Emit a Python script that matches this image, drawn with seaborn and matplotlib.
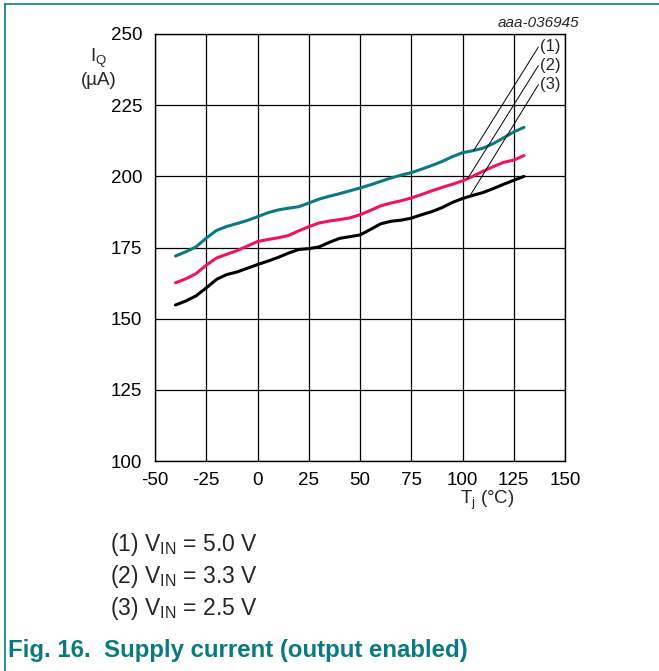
import numpy as np
import pandas as pd
import matplotlib
matplotlib.use("Agg")
import matplotlib.pyplot as plt
from matplotlib.lines import Line2D
import seaborn as sns

temps = [-40, -35, -30, -25, -20, -15, -10, -5, 0, 5, 10, 15, 20, 25, 30, 35, 40, 45, 50,
         55, 60, 65, 70, 75, 80, 85, 90, 95, 100, 105, 110, 115, 120, 125, 130]
ic_5v0 = [172.0, 173.5, 175.2, 178.3, 181.0, 182.4, 183.4, 184.5, 185.8, 187.2, 188.2, 188.8,
          189.3, 190.6, 192.0, 193.0, 193.9, 194.9, 195.9, 197.0, 198.2, 199.4, 200.4, 201.3,
          202.5, 203.8, 205.2, 206.9, 208.3, 209.0, 209.9, 211.5, 213.5, 215.6, 217.2]
ic_3v3 = [162.6, 164.0, 165.8, 168.8, 171.3, 172.6, 173.9, 175.5, 177.1, 177.8, 178.4, 179.2,
          180.8, 182.3, 183.6, 184.3, 184.8, 185.4, 186.5, 188.0, 189.6, 190.6, 191.4, 192.4,
          193.6, 194.9, 196.1, 197.2, 198.4, 200.0, 201.8, 203.4, 204.9, 205.7, 207.3]
ic_2v5 = [154.8, 156.2, 158.0, 160.8, 163.8, 165.5, 166.4, 167.7, 169.0, 170.2, 171.5, 173.0,
          174.3, 174.6, 175.2, 176.8, 178.2, 178.8, 179.4, 181.3, 183.3, 184.2, 184.6, 185.3,
          186.5, 187.6, 189.0, 190.8, 192.2, 193.3, 194.3, 195.7, 197.2, 198.6, 200.0]
series_names = ["(1)", "(2)", "(3)"]
series_colors = ["#0b7a80", "#f0155a", "#000000"]
x_ticks = [-50, -25, 0, 25, 50, 75, 100, 125, 150]
y_ticks = [100, 125, 150, 175, 200, 225, 250]
legend_lines = ["(1) V$_{\\mathregular{IN}}$ = 5.0 V",
                "(2) V$_{\\mathregular{IN}}$ = 3.3 V",
                "(3) V$_{\\mathregular{IN}}$ = 2.5 V"]
label_anchor_x = [105.5, 102.5, 103.5]

sns.set_theme(style="white")
plt.rcParams['font.family'] = ['Liberation Sans', 'DejaVu Sans']
plt.rcParams['mathtext.fontset'] = 'custom'
plt.rcParams['mathtext.rm'] = 'Liberation Sans'
plt.rcParams['mathtext.it'] = 'Liberation Sans'

df = pd.DataFrame({
    "T": temps * 3,
    "I": ic_5v0 + ic_3v3 + ic_2v5,
    "s": [series_names[0]] * len(temps) + [series_names[1]] * len(temps) + [series_names[2]] * len(temps),
})

fig = plt.figure(figsize=(6.59, 6.71), dpi=100)
ax = fig.add_axes([155 / 659, 1 - 461 / 671, 410 / 659, 427 / 671])

sns.lineplot(data=df, x="T", y="I", hue="s", palette=dict(zip(series_names, series_colors)),
             linewidth=2.2, ax=ax, legend=False)
for ln in ax.lines:
    ln.set_solid_capstyle("round")
    ln.set_solid_joinstyle("round")

ax.set_xlim(-50, 150)
ax.set_ylim(100, 250)
ax.set_xticks(x_ticks)
ax.set_yticks(y_ticks)
ax.set_xticklabels([str(v) for v in x_ticks], fontsize=13.5)
ax.set_yticklabels([str(v) for v in y_ticks], fontsize=13.5)
ax.tick_params(axis="y", length=0, pad=9, colors="black")
ax.tick_params(axis="x", length=0, pad=8, colors="black")
ax.grid(True, color="black", linewidth=0.9)
for sp in ax.spines.values():
    sp.set_color("black")
    sp.set_linewidth(1.0)
ax.set_xlabel("")
ax.set_ylabel("")

ax.text(-77.5, 241.6, "I$_{\\mathregular{Q}}$", ha="center", va="center", fontsize=13.5)
ax.text(-77.5, 233.8, "(µA)", ha="center", va="center", fontsize=13.5)
ax.text(112, 90.3, "T$_{\\mathregular{j}}$ (°C)", ha="center", va="top", fontsize=13.5)
ax.text(156.8, 251.5, "aaa-036945", ha="right", va="bottom", fontsize=11, style="italic")

# callout labels with leader lines
all_series = [ic_5v0, ic_3v3, ic_2v5]
label_y = [245.6, 239.1, 232.4]
for name, ys, lx, ly in zip(series_names, all_series, label_anchor_x, label_y):
    ay = float(np.interp(lx, temps, ys))
    ax.plot([lx, 137], [ay, ly - 0.2], color="black", linewidth=0.7)
    ax.text(137.8, ly, name, ha="left", va="center", fontsize=12)

# legend text below chart
for i, t in enumerate(legend_lines):
    fig.text(110 / 659, 1 - (544 + i * 32) / 671, t, ha="left", va="center", fontsize=16.5)

fig.text(8 / 659, 1 - 650 / 671, "Fig. 16.  Supply current (output enabled)", ha="left",
         va="center", fontsize=17.3, fontweight="bold", color="#0b7a80")

# frame lines
fig.add_artist(Line2D([5 / 659, 5 / 659], [0, 1 - 4 / 671], transform=fig.transFigure,
                      color="#0b7a80", linewidth=1.2))
fig.add_artist(Line2D([5 / 659, 1], [1 - 4 / 671, 1 - 4 / 671], transform=fig.transFigure,
                      color="#0b7a80", linewidth=1.2))

fig.savefig("out.png", dpi=100)
